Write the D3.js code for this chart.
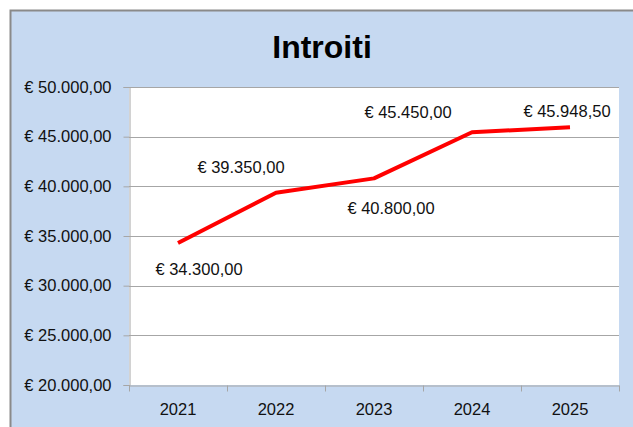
<!DOCTYPE html>
<html><head><meta charset="utf-8">
<script src="https://cdn.jsdelivr.net/npm/d3@7"></script>
<style>html,body{margin:0;padding:0;background:#fff;}svg{display:block;}</style>
</head><body>
<svg id="c" width="633" height="427"></svg>
<script>
const years = ["2021","2022","2023","2024","2025"];
const values = [34300, 39350, 40800, 45450, 45948.5];
const yTicks = [20000,25000,30000,35000,40000,45000,50000];
const title = "Introiti";
// label offsets (px) relative to each point, as placed in the original chart
const labelDx = [21, -35, 17, -64, -3];
const labelDy = [26, -26, 30, -20, -16];

const fmt = v => "€ " + v.toLocaleString("de-DE",{minimumFractionDigits:2, maximumFractionDigits:2});
const font = "'Liberation Sans', Arial, sans-serif";
const fs = 16.5;

const svg = d3.select("#c");
const W = 633, H = 427;
const m = {left:129, top:87, right:619, bottom:385};

svg.append("rect").attr("x",0).attr("y",0).attr("width",W).attr("height",H).attr("fill","#fff");
svg.append("rect").attr("x",10).attr("y",10).attr("width",W).attr("height",H).attr("fill","#C6D9F1");
svg.append("path").attr("d",`M10.5,${H} V10.5 H${W}`).attr("fill","none").attr("stroke","#8A8A8A").attr("stroke-width",2);

svg.append("text").attr("x",322).attr("y",47).attr("text-anchor","middle").attr("dominant-baseline","central")
  .attr("font-family",font).attr("font-weight","bold").attr("font-size",32).attr("fill","#000").text(title);

const x = d3.scaleBand().domain(years).range([m.left,m.right]);
const y = d3.scaleLinear().domain([20000,50000]).range([m.bottom,m.top]);

svg.append("rect").attr("x",m.left).attr("y",m.top).attr("width",m.right-m.left).attr("height",m.bottom-m.top).attr("fill","#fff");

// gridlines
svg.append("g").selectAll("line").data(yTicks.filter(t=>t>20000)).join("line")
  .attr("x1",m.left).attr("x2",m.right).attr("y1",d=>Math.round(y(d))+0.5).attr("y2",d=>Math.round(y(d))+0.5)
  .attr("stroke","#A6A6A6").attr("stroke-width",1);

// y axis
const ya = svg.append("g").attr("transform",`translate(${m.left+0.5},0)`)
  .call(d3.axisLeft(y).tickValues(yTicks).tickFormat(fmt).tickSize(6).tickPadding(12));
ya.select(".domain").attr("stroke","#A6A6A6");
ya.selectAll(".tick line").attr("stroke","#A6A6A6");
ya.selectAll("text").attr("font-family",font).attr("font-size",fs).attr("fill","#111");

// x axis
const xa = svg.append("g").attr("transform",`translate(0,${m.bottom+0.5})`)
  .call(d3.axisBottom(x).tickSize(0).tickPadding(18));
xa.select(".domain").attr("stroke","#A6A6A6");
xa.selectAll("text").attr("font-family",font).attr("font-size",fs).attr("fill","#111");
xa.selectAll(".bt").data(years.concat(["end"])).join("line").attr("class","bt")
  .attr("x1",(d,i)=>Math.round(m.left + i*x.step())+0.5).attr("x2",(d,i)=>Math.round(m.left + i*x.step())+0.5)
  .attr("y1",0).attr("y2",6).attr("stroke","#A6A6A6");

// line
const cx = d => x(d) + x.bandwidth()/2;
const line = d3.line().x((d,i)=>cx(years[i])).y(d=>y(d));
svg.append("path").datum(values).attr("d",line).attr("fill","none")
  .attr("stroke","#FF0000").attr("stroke-width",4).attr("stroke-linejoin","round");

// labels
svg.append("g").selectAll("text").data(values).join("text")
  .attr("x",(d,i)=>cx(years[i])+labelDx[i]).attr("y",(d,i)=>y(d)+labelDy[i])
  .attr("text-anchor","middle").attr("dominant-baseline","central")
  .attr("font-family",font).attr("font-size",fs).attr("fill","#111").text(fmt);
</script>
</body></html>
